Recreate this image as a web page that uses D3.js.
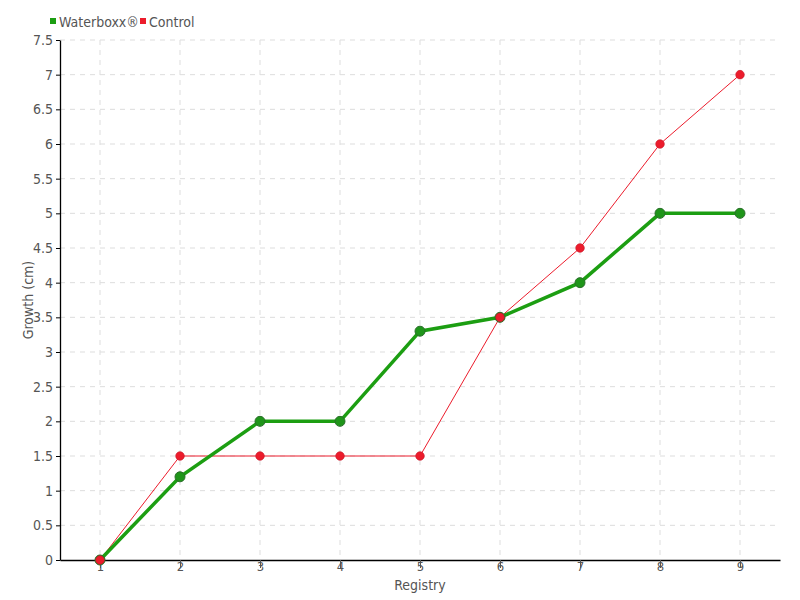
<!DOCTYPE html>
<html><head><meta charset="utf-8">
<script src="https://cdn.jsdelivr.net/npm/d3@7"></script>
<style>body{margin:0;background:#fff}svg{display:block}text{font-family:"DejaVu Sans Condensed","DejaVu Sans",sans-serif;font-stretch:condensed;fill:#555}</style>
</head><body>
<script>
const registry = [1,2,3,4,5,6,7,8,9];
const waterboxx = [0,1.2,2,2,3.3,3.5,4,5,5];
const control = [0,1.5,1.5,1.5,1.5,3.5,4.5,6,7];
const yTicks = [0,0.5,1,1.5,2,2.5,3,3.5,4,4.5,5,5.5,6,6.5,7,7.5];
const seriesNames = ["Waterboxx®","Control"];
const colors = ["#1c9e12","#ec1c2c"];

const W=800,H=600,L=60,R=780,T=40,B=560;
const svg=d3.select("body").append("svg").attr("width",W).attr("height",H);
const x=d3.scaleLinear().domain([0.5,9.5]).range([L,R]);
const y=d3.scaleLinear().domain([0,7.5]).range([B,T]);

const grid=svg.append("g").attr("stroke","#ddd").attr("stroke-dasharray","5,5");
yTicks.forEach(v=>{ if(v>0) grid.append("line").attr("x1",L).attr("x2",R).attr("y1",y(v)).attr("y2",y(v)); });
registry.forEach(v=>grid.append("line").attr("x1",x(v)).attr("x2",x(v)).attr("y1",T).attr("y2",B));

const ya=svg.append("g").attr("transform",`translate(${L},0)`).call(d3.axisLeft(y).tickValues(yTicks).tickSize(4).tickSizeOuter(0).tickPadding(3).tickFormat(d=>String(d)));
const xa=svg.append("g").attr("transform",`translate(0,${B})`).call(d3.axisBottom(x).tickValues(registry).tickSize(8).tickSizeOuter(0).tickPadding(-6).tickFormat(d3.format("d")));
[ya,xa].forEach(a=>{a.select(".domain").attr("stroke","#000").attr("stroke-width",1.3);a.selectAll("text").style("font-size","14px").attr("fill","#555");});
xa.selectAll("text").style("font-size","13px");
ya.selectAll(".tick line").attr("stroke","#000");
xa.selectAll(".tick line").attr("stroke","#555");

const line=d3.line().x((d,i)=>x(registry[i])).y(d=>y(d));
svg.append("path").datum(control).attr("d",line).attr("fill","none").attr("stroke",colors[1]).attr("stroke-width",1);
svg.append("path").datum(waterboxx).attr("d",line).attr("fill","none").attr("stroke",colors[0]).attr("stroke-width",3.5);
svg.append("g").selectAll("circle").data(waterboxx).join("circle").attr("cx",(d,i)=>x(registry[i])).attr("cy",d=>y(d)).attr("r",5).attr("fill","#1f951a").attr("stroke","#2a6e2a").attr("stroke-width",1);
svg.append("g").selectAll("circle").data(control).join("circle").attr("cx",(d,i)=>x(registry[i])).attr("cy",d=>y(d)).attr("r",4.3).attr("fill",colors[1]).attr("stroke","#c81426").attr("stroke-width",0.6);

svg.append("text").attr("x",420).attr("y",590).attr("text-anchor","middle").style("font-size","14px").text("Registry");
svg.append("text").attr("transform","translate(33,300) rotate(-90)").attr("text-anchor","middle").style("font-size","14px").text("Growth (cm)");

const leg=svg.append("g");
const lx=[50,140];
seriesNames.forEach((n,i)=>{
  leg.append("rect").attr("x",lx[i]).attr("y",18).attr("width",6).attr("height",6).attr("fill",colors[i]);
  leg.append("text").attr("x",lx[i]+9).attr("y",27).style("font-size","14px").text(n);
});
</script>
</body></html>
